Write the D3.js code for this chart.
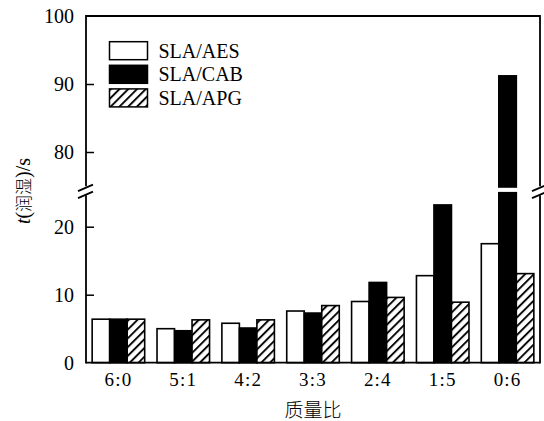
<!DOCTYPE html>
<html>
<head>
<meta charset="utf-8">
<script src="https://cdn.jsdelivr.net/npm/d3@7"></script>
<style>
  html, body { margin: 0; padding: 0; background: #fff; }
  svg { display: block; }
  .serif { font-family: "Liberation Serif", "DejaVu Serif", serif; }
  .cjk { font-family: "Noto Sans CJK SC", sans-serif; font-weight: 300; }
</style>
</head>
<body>
<svg id="chart" width="544" height="421"></svg>
<script>
// Mass ratios on the x axis
const categories = ["6:0", "5:1", "4:2", "3:3", "2:4", "1:5", "0:6"];
// Wetting time t (s) for each blend
const seriesNames = ["SLA/AES", "SLA/CAB", "SLA/APG"];
const aesValues = [6.4, 5.0, 5.8, 7.6, 9.0, 12.8, 17.5];
const cabValues = [6.4, 4.7, 5.1, 7.3, 11.8, 23.2, 91.2];
const apgValues = [6.4, 6.3, 6.3, 8.4, 9.6, 8.9, 13.1];
// Tick values of the two axis segments
const lowTicks = [0, 10, 20];
const highTicks = [80, 90, 100];
const lowDomain = [0, 25];
const highDomain = [75, 100];

const seriesValues = [aesValues, cabValues, apgValues];

const svg = d3.select("#chart");
const plotLeft = 86, plotRight = 540, plotTop = 16, plotBottom = 362.7;
const gapTop = 186, gapBottom = 192.7;

// Hatch pattern for the third series
const defs = svg.append("defs");
const hatchStep = 6.2;
const pat = defs.append("pattern")
  .attr("id", "hatch")
  .attr("patternUnits", "userSpaceOnUse")
  .attr("width", hatchStep).attr("height", hatchStep)
  .attr("patternTransform", "rotate(45)");
pat.append("rect").attr("width", hatchStep).attr("height", hatchStep).attr("fill", "#fff");
pat.append("line").attr("x1", 1).attr("y1", 0).attr("x2", 1).attr("y2", hatchStep)
  .attr("stroke", "#000").attr("stroke-width", 1.9);

const fills = ["#fff", "#000", "url(#hatch)"];

const x = d3.scaleBand().domain(categories).range([plotLeft, plotRight])
  .paddingInner(0.19).paddingOuter(0.095);
const xs = d3.scaleBand().domain(d3.range(seriesNames.length)).range([0, x.bandwidth()]);

const yLow = d3.scaleLinear().domain(lowDomain).range([plotBottom, gapBottom]);
const yHigh = d3.scaleLinear().domain(highDomain).range([gapTop, plotTop]);

// Bars (values above the lower segment are split across the break)
const barsG = svg.append("g");
categories.forEach((c, i) => {
  seriesValues.forEach((vals, s) => {
    const v = vals[i];
    const bx = x(c) + xs(s);
    const w = xs.bandwidth();
    const lowTop = yLow(Math.min(v, lowDomain[1]));
    barsG.append("rect")
      .attr("x", bx).attr("y", lowTop)
      .attr("width", w).attr("height", yLow(0) - lowTop)
      .attr("fill", fills[s]).attr("stroke", "#000").attr("stroke-width", 1.6);
    if (v > highDomain[0]) {
      const hTop = yHigh(v);
      barsG.append("rect")
        .attr("x", bx).attr("y", hTop)
        .attr("width", w).attr("height", yHigh(highDomain[0]) + 1 - hTop)
        .attr("fill", fills[s]).attr("stroke", "#000").attr("stroke-width", 1.6);
    }
  });
});

// Frame with broken vertical spines
const frame = svg.append("g").attr("stroke", "#000").attr("stroke-width", 1.8).attr("fill", "none");
const breakY = (gapTop + gapBottom) / 2 + 2;
[plotLeft, plotRight].forEach(px => {
  frame.append("line").attr("x1", px).attr("x2", px).attr("y1", plotTop - 0.9).attr("y2", breakY - 5);
  frame.append("line").attr("x1", px).attr("x2", px).attr("y1", breakY + 4).attr("y2", plotBottom + 0.9);
  [-3.5, 3.5].forEach(dy => {
    frame.append("line")
      .attr("x1", px - 8).attr("y1", breakY + dy + 3.2)
      .attr("x2", px + 7).attr("y2", breakY + dy - 3.2);
  });
});
frame.append("line").attr("x1", plotLeft).attr("x2", plotRight).attr("y1", plotTop).attr("y2", plotTop);
frame.append("line").attr("x1", plotLeft).attr("x2", plotRight).attr("y1", plotBottom).attr("y2", plotBottom);

// Y axes, ticks pointing inward
function styleAxis(g) {
  g.select(".domain").remove();
  g.selectAll(".tick line").attr("stroke", "#000").attr("stroke-width", 1.5);
  g.selectAll(".tick text").attr("class", "serif").attr("font-size", 20).attr("fill", "#000");
}
svg.append("g").attr("transform", `translate(${plotLeft},0)`)
  .call(d3.axisLeft(yLow).tickValues(lowTicks).tickSizeInner(-8).tickSizeOuter(0).tickPadding(12).tickFormat(d3.format("d")))
  .call(styleAxis)
  .call(g => g.selectAll(".tick").filter(d => d === 0).select("line").remove());
svg.append("g").attr("transform", `translate(${plotLeft},0)`)
  .call(d3.axisLeft(yHigh).tickValues(highTicks).tickSizeInner(-8).tickSizeOuter(0).tickPadding(12).tickFormat(d3.format("d")))
  .call(styleAxis)
  .call(g => g.selectAll(".tick").filter(d => d === 100).select("line").remove());

// X axis labels
svg.append("g").attr("transform", `translate(0,${plotBottom})`)
  .call(d3.axisBottom(x).tickSize(0).tickPadding(10))
  .call(g => g.select(".domain").remove())
  .call(g => g.selectAll(".tick text").attr("class", "serif").attr("font-size", 19)
    .attr("letter-spacing", 1.2).attr("fill", "#000"));

// Axis titles
svg.append("text").attr("class", "cjk")
  .attr("x", (plotLeft + plotRight) / 2).attr("y", 417)
  .attr("text-anchor", "middle").attr("font-size", 19).attr("fill", "#000")
  .text("质量比");

const yt = svg.append("text")
  .attr("transform", "translate(30,191) rotate(-90)")
  .attr("text-anchor", "middle").attr("font-size", 20).attr("fill", "#000");
yt.append("tspan").attr("class", "serif").attr("font-style", "italic").text("t");
yt.append("tspan").attr("class", "serif").text("(");
yt.append("tspan").attr("class", "cjk").attr("font-size", 17).text("润湿");
yt.append("tspan").attr("class", "serif").text(")/s");

// Legend
const legend = svg.append("g").attr("transform", "translate(109.5,41.7)");
seriesNames.forEach((name, s) => {
  const row = legend.append("g").attr("transform", `translate(0,${s * 23.6})`);
  row.append("rect").attr("width", 38).attr("height", 18)
    .attr("fill", fills[s]).attr("stroke", "#000").attr("stroke-width", 1.5);
  row.append("text").attr("class", "serif").attr("x", 49).attr("y", 16)
    .attr("font-size", 20).attr("fill", "#000").text(name);
});
</script>
</body>
</html>
